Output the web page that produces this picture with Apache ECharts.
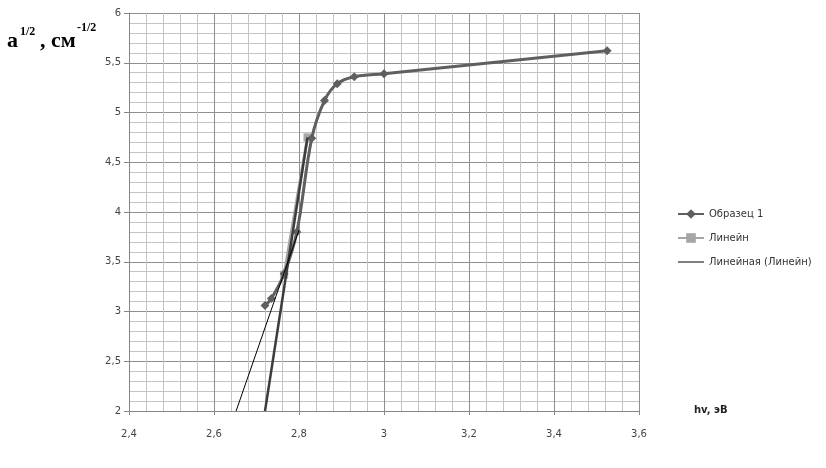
<!DOCTYPE html>
<html>
<head>
<meta charset="utf-8">
<script src="https://cdn.jsdelivr.net/npm/echarts@6/dist/echarts.min.js"></script>
<style>
  html, body { margin: 0; padding: 0; background: #fff; }
  #chart { width: 826px; height: 468px; }
</style>
</head>
<body>
<div id="chart"></div>
<script>
// Образец 1
const hv = [2.72, 2.735, 2.765, 2.795, 2.83, 2.86, 2.89, 2.93, 3.0, 3.525];
const alphaSqrt = [3.06, 3.13, 3.38, 3.8, 4.74, 5.12, 5.29, 5.36, 5.39, 5.62];
// Линейн
const linHv = [2.765, 2.82];
const linAlpha = [3.37, 4.75];
// Линейная (Линейн) trendline
const trendHv = [2.652, 2.80];
const trendAlpha = [2.0, 3.82];
// steep straight line through the edge
const edgeHv = [2.72, 2.82];
const edgeAlpha = [2.0, 4.75];

const xTicks = { min: 2.4, max: 3.6, step: 0.2 };
const yTicks = { min: 2, max: 6, step: 0.5 };

function pairs(xs, ys) {
    return xs.map(function (x, i) { return [x, ys[i]]; });
}
function comma(v) {
    return String(Math.round(v * 100) / 100).replace('.', ',');
}

let chart = echarts.init(document.getElementById('chart'));
const labelFont = 'DejaVu Sans';
const serif = 'Liberation Serif';

function titlePart(text, x, y, size) {
    return {
        type: 'text', left: x, top: y,
        style: { text: text, fontFamily: serif, fontWeight: 'bold', fontSize: size, fill: '#000' }
    };
}

let option = {
    animation: false,
    grid: { left: 129, right: 187, top: 13, bottom: 57 },
    legend: {
        orient: 'vertical',
        left: 672,
        top: 204,
        itemWidth: 26,
        itemHeight: 12,
        itemGap: 14,
        data: [
            'Образец 1',
            'Линейн',
            { name: 'Линейная (Линейн)', icon: 'path://M0,0H26V1H0Z' }
        ],
        textStyle: { fontFamily: labelFont, fontSize: 10, color: '#333' }
    },
    graphic: [
        titlePart('a', 7, 30, 22),
        titlePart('1/2', 20, 26, 12),
        titlePart(', см', 40, 30, 22),
        titlePart('-1/2', 77, 22, 12),
        {
            type: 'text',
            left: 694,
            top: 405,
            style: { text: 'hv, эВ', fontFamily: labelFont, fontWeight: 'bold', fontSize: 10, fill: '#222' }
        }
    ],
    xAxis: {
        type: 'value',
        min: xTicks.min,
        max: xTicks.max,
        interval: xTicks.step,
        axisLine: { show: true, lineStyle: { color: '#868686' } },
        axisTick: { show: true, length: 4, lineStyle: { color: '#868686' } },
        axisLabel: { margin: 18, fontFamily: labelFont, fontSize: 10, color: '#444', formatter: comma },
        splitLine: { show: true, lineStyle: { color: '#8f8f8f', width: 1 } },
        minorTick: { show: false, splitNumber: 5 },
        minorSplitLine: { show: true, lineStyle: { color: '#c4c4c4', width: 1 } }
    },
    yAxis: {
        type: 'value',
        min: yTicks.min,
        max: yTicks.max,
        interval: yTicks.step,
        axisLine: { show: true, lineStyle: { color: '#868686' } },
        axisTick: { show: true, length: 5, lineStyle: { color: '#868686' } },
        axisLabel: { margin: 8, fontFamily: labelFont, fontSize: 10, color: '#444', formatter: comma },
        splitLine: { show: true, lineStyle: { color: '#8f8f8f', width: 1 } },
        minorTick: { show: false, splitNumber: 5 },
        minorSplitLine: { show: true, lineStyle: { color: '#c4c4c4', width: 1 } }
    },
    series: [
        {
            name: 'Линейн',
            type: 'line',
            data: pairs(linHv, linAlpha),
            symbol: 'rect',
            symbolSize: 8,
            lineStyle: { color: '#a6a6a6', width: 3 },
            itemStyle: { color: '#a6a6a6' },
            z: 2
        },
        {
            name: 'Образец 1',
            type: 'line',
            data: pairs(hv, alphaSqrt),
            smooth: 0.35,
            symbol: 'diamond',
            symbolSize: 9,
            lineStyle: { color: '#5f5f5f', width: 3 },
            itemStyle: { color: '#5f5f5f' },
            z: 3
        },
        {
            name: 'edge',
            type: 'line',
            data: pairs(edgeHv, edgeAlpha),
            symbol: 'none',
            lineStyle: { color: '#3c3c3c', width: 2.5 },
            z: 4
        },
        {
            name: 'Линейная (Линейн)',
            type: 'line',
            data: pairs(trendHv, trendAlpha),
            symbol: 'none',
            lineStyle: { color: '#000', width: 1 },
            itemStyle: { color: '#000' },
            z: 5
        }
    ]
};
chart.setOption(option);
</script>
</body>
</html>
